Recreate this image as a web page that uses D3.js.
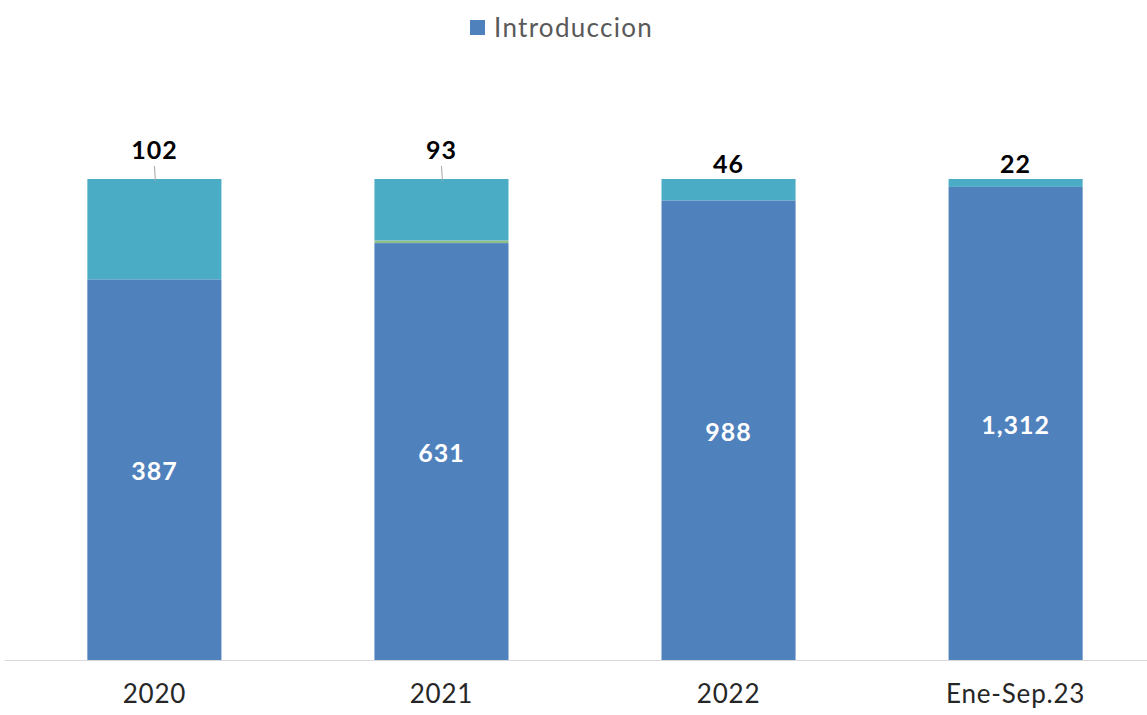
<!DOCTYPE html>
<html>
<head>
  <meta charset="utf-8">
  <style>
    body { margin: 0; background: #fff; }
    text { font-family: Lato, "Open Sans", sans-serif; }
  </style>
</head>
<body>
  <script src="https://d3js.org/d3.v7.min.js"></script>
  <script>
    // data
    var categories = ["2020", "2021", "2022", "Ene-Sep.23"];
    var introduccion = [387, 631, 988, 1312];
    var otros = [0, 4, 0, 0];          // thin green sliver seen in 2021
    var resto = [102, 93, 46, 22];
    var seriesKeys = ["introduccion", "otros", "resto"];
    var colors = {introduccion: "#4f81bd", otros: "#8fbf8a", resto: "#4bacc6"};

    var width = 1147, height = 715;
    var margin = {top: 179, bottom: 55, left: 11, right: -12};

    var table = categories.map(function(c, i) {
      return {cat: c, introduccion: introduccion[i], otros: otros[i], resto: resto[i]};
    });

    var svg = d3.select("body").append("svg")
        .attr("width", width)
        .attr("height", height);

    var x = d3.scaleBand()
        .domain(categories)
        .range([margin.left, width - margin.right])
        .paddingInner(0.533)
        .paddingOuter(0.266);

    var y = d3.scaleLinear()
        .domain([0, 1])
        .range([height - margin.bottom, margin.top]);

    var stack = d3.stack()
        .keys(seriesKeys)
        .offset(d3.stackOffsetExpand);
    var layers = stack(table);

    // baseline
    svg.append("line")
        .attr("x1", 5).attr("x2", width)
        .attr("y1", y(0) + 0.5).attr("y2", y(0) + 0.5)
        .attr("stroke", "#d9d9d9")
        .attr("stroke-width", 1);

    svg.selectAll(".layer")
      .data(layers)
      .enter().append("g")
        .attr("class", "layer")
        .attr("fill", function(d) { return colors[d.key]; })
      .selectAll("rect")
      .data(function(d) { return d; })
      .enter().append("rect")
        .attr("x", function(d) { return x(d.data.cat); })
        .attr("y", function(d) { return y(d[1]); })
        .attr("width", x.bandwidth())
        .attr("height", function(d) { return y(d[0]) - y(d[1]); });

    // white labels inside the bottom segment
    var bottom = layers[0];
    svg.selectAll(".inlabel")
      .data(bottom)
      .enter().append("text")
        .attr("class", "inlabel")
        .attr("x", function(d) { return x(d.data.cat) + x.bandwidth() / 2; })
        .attr("y", function(d) { return (y(d[0]) + y(d[1])) / 2 + 2; })
        .attr("dy", "0.35em")
        .attr("text-anchor", "middle")
        .attr("fill", "#fff")
        .style("font-size", "25px")
        .style("font-weight", "bold")
        .style("letter-spacing", "1px")
        .text(function(d) { return d3.format(",")(d.data.introduccion); });

    // leader lines for the two larger top labels
    svg.selectAll(".leader")
      .data(table.filter(function(d) { return d.resto > 60; }))
      .enter().append("line")
        .attr("x1", function(d) { return x(d.cat) + x.bandwidth() / 2; })
        .attr("x2", function(d) { return x(d.cat) + x.bandwidth() / 2 + 1; })
        .attr("y1", y(1) - 13)
        .attr("y2", y(1) + 2)
        .attr("stroke", "#a6a6a6")
        .attr("stroke-width", 1);

    // black labels above the bars
    svg.selectAll(".toplabel")
      .data(table)
      .enter().append("text")
        .attr("class", "toplabel")
        .attr("x", function(d) { return x(d.cat) + x.bandwidth() / 2; })
        .attr("y", function(d) { return d.resto > 60 ? y(1) - 20 : y(1) - 6; })
        .attr("text-anchor", "middle")
        .attr("fill", "#000")
        .style("font-size", "25px")
        .style("font-weight", "bold")
        .style("letter-spacing", "1px")
        .text(function(d) { return d.resto; });

    // category axis
    var xAxis = svg.append("g")
        .attr("transform", "translate(0," + y(0) + ")")
        .call(d3.axisBottom(x).tickSize(0).tickPadding(25));
    xAxis.select(".domain").remove();
    xAxis.selectAll("text")
        .attr("fill", "#262626")
        .style("font-size", "26px")
        .style("letter-spacing", "0.8px")
        .style("font-family", "Lato, 'Open Sans', sans-serif");

    // legend
    var legend = svg.append("g").attr("transform", "translate(470,20)");
    legend.append("rect")
        .attr("width", 15).attr("height", 15)
        .attr("fill", colors.introduccion);
    legend.append("text")
        .attr("x", 24).attr("y", 8)
        .attr("dy", "0.35em")
        .attr("fill", "#595959")
        .style("font-size", "26px")
        .style("letter-spacing", "1.3px")
        .text("Introduccion");
  </script>
</body>
</html>
